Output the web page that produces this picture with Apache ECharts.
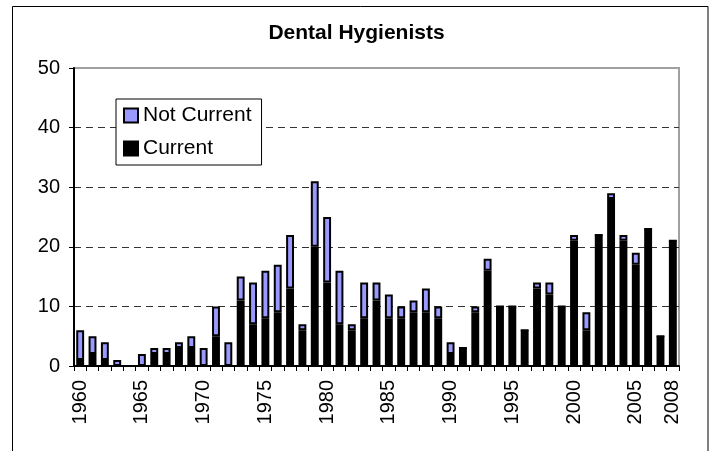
<!DOCTYPE html>
<html>
<head>
<meta charset="utf-8">
<script src="https://cdn.jsdelivr.net/npm/echarts@6/dist/echarts.min.js"></script>
<style>
html,body{margin:0;padding:0;background:#fff;}
#chart{width:713px;height:451px;}
</style>
</head>
<body>
<div id="chart"></div>
<script>
var years = [];
for (var y = 1960; y <= 2008; y++) years.push(String(y));

var currentValues = [1,2,1,0,0,0,2,2,3,3,0,5,0,11,7,8,9,13,6,20,14,7,6,8,11,8,8,9,9,8,2,3,9,16,10,10,6,13,12,10,21,6,22,28,21,17,23,5,21];
var notCurrentValues = [5,3,3,1,0,2,1,1,1,2,3,5,4,4,7,8,8,9,1,11,11,9,1,6,3,4,2,2,4,2,2,0,1,2,0,0,0,1,2,0,1,3,0,1,1,2,0,0,0];
var shownYearLabels = ['1960','1965','1970','1975','1980','1985','1990','1995','2000','2005','2008'];
var yTicks = [0,10,20,30,40,50];

var FONT = "'Liberation Sans', Arial, sans-serif";
var chart = echarts.init(document.getElementById('chart'), null, {renderer: 'canvas'});
chart.setOption({
  animation: false,
  backgroundColor: '#ffffff',
  title: {
    text: 'Dental Hygienists',
    left: 'center',
    top: 23,
    padding: [0, 0, 0, 7],
    textStyle: {fontFamily: FONT, fontSize: 21, fontWeight: 'bold', color: '#000'}
  },
  graphic: [{
    type: 'rect',
    shape: {x: 12.5, y: 6.5, width: 695.5, height: 460},
    style: {fill: 'none', stroke: '#000', lineWidth: 1},
    silent: true,
    z: -10
  }],
  legend: {
    orient: 'vertical',
    left: 116,
    top: 99,
    padding: [6, 10, 6, 7],
    itemWidth: 14,
    itemHeight: 14,
    itemGap: 12,
    icon: 'rect',
    borderColor: '#000',
    borderWidth: 1,
    backgroundColor: '#fff',
    data: ['Not Current', 'Current'],
    textStyle: {fontFamily: FONT, fontSize: 21, color: '#000'}
  },
  grid: {
    left: 74, right: 34, top: 68, bottom: 85,
    show: true,
    borderColor: '#a0a0a0',
    borderWidth: 2,
    backgroundColor: '#fff'
  },
  xAxis: {
    type: 'category',
    data: years,
    axisLine: {lineStyle: {color: '#000', width: 2}},
    axisTick: {show: true, interval: 0, length: 5, lineStyle: {color: '#000', width: 1}},
    axisLabel: {
      rotate: 90,
      margin: 14,
      fontFamily: FONT,
      fontSize: 20,
      color: '#000',
      interval: function (idx, val) { return shownYearLabels.indexOf(val) >= 0; }
    },
    splitLine: {show: false}
  },
  yAxis: {
    type: 'value',
    min: yTicks[0],
    max: yTicks[yTicks.length - 1],
    interval: 10,
    axisLine: {show: true, lineStyle: {color: '#000', width: 2}},
    axisTick: {show: true, length: 5, lineStyle: {color: '#000', width: 1}},
    axisLabel: {margin: 14, fontFamily: FONT, fontSize: 20, color: '#000'},
    splitLine: {
      show: true,
      showMinLine: false,
      showMaxLine: false,
      lineStyle: {color: '#333', width: 1, type: [7, 5]}
    }
  },
  series: [
    {
      name: 'Current',
      type: 'bar',
      stack: 'total',
      barWidth: '64%',
      data: currentValues,
      itemStyle: {color: '#000000', borderColor: '#000', borderWidth: 2}
    },
    {
      name: 'Not Current',
      type: 'bar',
      stack: 'total',
      barWidth: '64%',
      data: notCurrentValues,
      itemStyle: {color: '#9999ff', borderColor: '#000', borderWidth: 2}
    }
  ]
});
</script>
</body>
</html>
